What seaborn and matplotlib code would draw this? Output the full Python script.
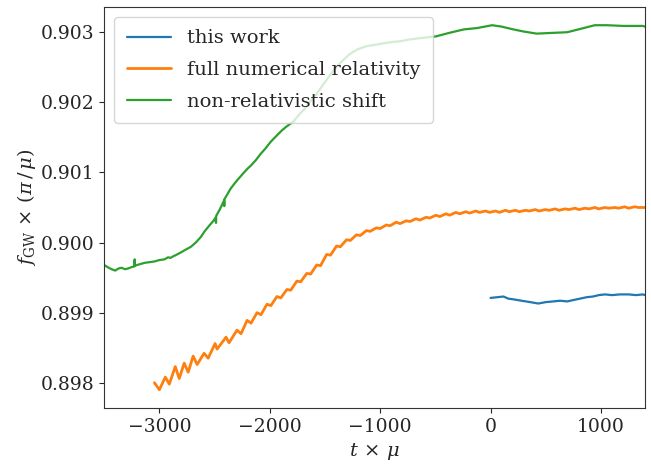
import matplotlib
matplotlib.use("Agg")
import matplotlib.pyplot as plt
import seaborn as sns
import pandas as pd

# valores (t*mu, f_GW*(pi/mu))
t_this = [0, 60, 117, 160, 207, 280, 360, 432, 500, 568, 630, 694, 750, 811,
          870, 928, 980, 1036, 1100, 1171, 1250, 1320, 1378, 1400]
f_this = [0.89921, 0.89922, 0.89923, 0.89920, 0.89919, 0.89917, 0.89915, 0.89913,
          0.89915, 0.89916, 0.89917, 0.89916, 0.89918, 0.89920, 0.89922, 0.89923,
          0.89925, 0.89926, 0.89925, 0.89926, 0.89926, 0.89925, 0.89926, 0.89925]

t_nr = [-3045, -3000, -2946, -2910, -2856, -2820, -2775, -2739, -2694, -2658,
        -2595, -2558, -2495, -2477, -2396, -2369, -2297, -2260, -2205, -2170,
        -2115, -2080, -2025, -1990, -1935, -1900, -1845, -1810, -1755, -1720,
        -1665, -1630, -1575, -1540, -1485, -1450, -1395, -1360, -1305, -1270,
        -1215, -1180, -1125, -1090, -1035, -1000, -945, -910, -855, -820,
        -765, -730, -675, -640, -585, -550, -495, -460, -405, -370,
        -315, -280, -225, -190, -135, -100, -45, -10, 45, 80,
        135, 170, 225, 260, 315, 350, 405, 440, 495, 530,
        585, 620, 675, 710, 765, 800, 855, 890, 945, 980,
        1035, 1070, 1125, 1160, 1215, 1250, 1305, 1340, 1400]
f_nr = [0.89800, 0.89790, 0.89808, 0.89798, 0.89823, 0.89806, 0.89828, 0.89815, 0.89838, 0.89826,
        0.89842, 0.89835, 0.89856, 0.89848, 0.89865, 0.89857, 0.89875, 0.89870, 0.89889, 0.89885,
        0.89900, 0.89897, 0.89912, 0.89910, 0.89923, 0.89921, 0.89933, 0.89932, 0.89945, 0.89944,
        0.89956, 0.89955, 0.89968, 0.89967, 0.89983, 0.89982, 0.89995, 0.89994, 0.90004, 0.90003,
        0.90011, 0.90010, 0.90017, 0.90016, 0.90021, 0.90020, 0.90025, 0.90024, 0.90029, 0.90027,
        0.90031, 0.90030, 0.90034, 0.90032, 0.90036, 0.90035, 0.90039, 0.90037, 0.90041, 0.90039,
        0.90043, 0.90041, 0.90044, 0.90042, 0.90045, 0.90043, 0.90045, 0.90043, 0.90045, 0.90043,
        0.90046, 0.90044, 0.90046, 0.90044, 0.90046, 0.90045, 0.90047, 0.90045, 0.90047, 0.90046,
        0.90048, 0.90046, 0.90048, 0.90047, 0.90049, 0.90047, 0.90049, 0.90048, 0.90050, 0.90048,
        0.90050, 0.90049, 0.90050, 0.90049, 0.90051, 0.90049, 0.90051, 0.90050, 0.90050]

t_shift = [-3500, -3470, -3433, -3400, -3370, -3343, -3310, -3283, -3250, -3226,
           -3224, -3222, -3180, -3134, -3090, -3044, -3000, -2954, -2920, -2900,
           -2879, -2840, -2804, -2760, -2714, -2670, -2624, -2590, -2549, -2510,
           -2489, -2487, -2485, -2450, -2414, -2412, -2410, -2380, -2354, -2320,
           -2294, -2250, -2204, -2170, -2129, -2085, -2040, -1990, -1934, -1890,
           -1844, -1790, -1725, -1695, -1640, -1575, -1500, -1425, -1350, -1275,
           -1200, -1125, -1050, -976, -900, -826, -720, -616, -496, -376,
           -243, -120, 14, 100, 207, 300, 418, 550, 694, 820,
           943, 1054, 1200, 1378, 1400]
f_shift = [0.89968, 0.89965, 0.89962, 0.89960, 0.89963, 0.89964, 0.89962, 0.89963, 0.89965, 0.89966,
           0.89976, 0.89967, 0.89969, 0.89971, 0.89972, 0.89973, 0.89975, 0.89976, 0.89979, 0.89978,
           0.89980, 0.89983, 0.89986, 0.89990, 0.89994, 0.90000, 0.90008, 0.90016, 0.90024, 0.90031,
           0.90036, 0.90028, 0.90038, 0.90048, 0.90060, 0.90052, 0.90062, 0.90070, 0.90077, 0.90084,
           0.90089, 0.90097, 0.90105, 0.90110, 0.90117, 0.90126, 0.90134, 0.90144, 0.90153, 0.90160,
           0.90166, 0.90172, 0.90184, 0.90189, 0.90200, 0.90212, 0.90229, 0.90245, 0.90258, 0.90269,
           0.90276, 0.90280, 0.90282, 0.90284, 0.90286, 0.90287, 0.90290, 0.90292, 0.90294, 0.90299,
           0.90304, 0.90306, 0.90310, 0.90308, 0.90304, 0.90301, 0.90298, 0.90299, 0.90300, 0.90305,
           0.90310, 0.90310, 0.90309, 0.90309, 0.90308]

etiquetas = ["this work", "full numerical relativity", "non-relativistic shift"]
colores = ["#1f77b4", "#ff7f0e", "#2ca02c"]
grosores = [1.6, 2.0, 1.6]

sns.set_style("ticks")
plt.rcParams["font.family"] = ["DejaVu Serif"]
plt.rcParams["mathtext.fontset"] = "dejavuserif"
plt.rcParams["font.size"] = 13
plt.rcParams["axes.edgecolor"] = "#333333"

fig = plt.figure(figsize=(6.51, 4.66), dpi=100)
ax = fig.add_axes([0.160, 0.1245, 0.831, 0.8605])

series = [(t_this, f_this), (t_nr, f_nr), (t_shift, f_shift)]
for (t, f), nombre, color, lw in zip(series, etiquetas, colores, grosores):
    df = pd.DataFrame({"t": t, "f": f})
    sns.lineplot(data=df, x="t", y="f", ax=ax, color=color, label=nombre,
                 sort=False, estimator=None, linewidth=lw)

ax.set_xlim(-3500, 1400)
ax.set_xlabel(r"$t\, \times\, \mu$", fontsize=14)
ax.set_ylabel(r"$f_{\rm GW}\, \times\, (\pi\, /\, \mu)$", fontsize=14, labelpad=2)
ax.tick_params(labelsize=13.5)
ax.legend(loc="upper left", fontsize=14, frameon=True, framealpha=0.8,
          labelspacing=0.7, handlelength=2.3, borderpad=0.65)

fig.savefig("out.png", dpi=100)
